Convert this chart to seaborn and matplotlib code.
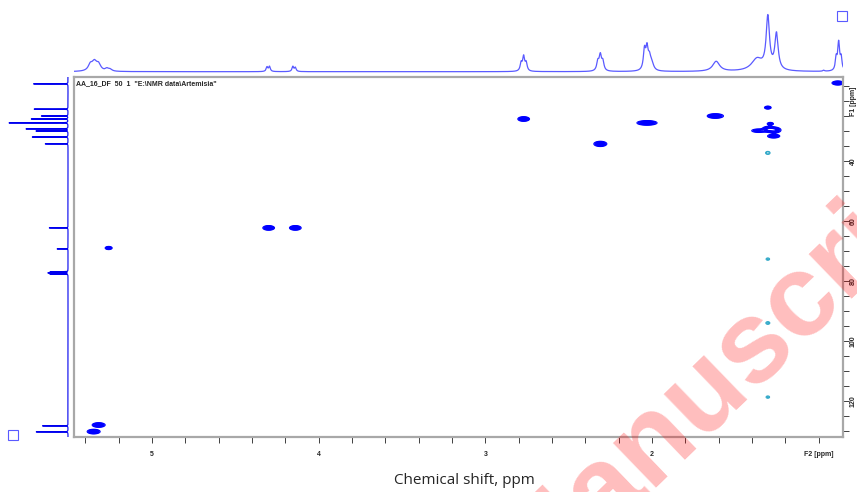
import numpy as np
import pandas as pd
import matplotlib
matplotlib.use('Agg')
import matplotlib.pyplot as plt
import seaborn as sns
from matplotlib.patches import Rectangle

# 1H projection (F2): line positions (ppm), heights, half widths
h_shift = [5.37, 5.345, 5.32, 5.27, 5.25, 4.31, 4.295, 4.155, 4.14,
           2.785, 2.77, 2.755, 2.325, 2.31, 2.295, 2.045, 2.03, 2.015, 2.00,
           1.615, 1.37, 1.305, 1.253, 0.97, 0.895, 0.88, 0.865]
h_height = [6, 9, 6, 2.5, 1.8, 4.5, 5, 5, 4,
            8, 14, 8, 9, 15, 9, 20, 20, 12, 6,
            10, 12, 52, 36, 1, 12, 28, 12]
h_width = [0.015, 0.018, 0.015, 0.012, 0.012, 0.006, 0.006, 0.006, 0.006,
           0.007, 0.007, 0.007, 0.008, 0.008, 0.008, 0.008, 0.008, 0.01, 0.012,
           0.025, 0.04, 0.012, 0.012, 0.006, 0.006, 0.007, 0.006]

# 13C projection (F1)
c_shift = [14.3, 22.7, 25.0, 26.0, 27.3, 29.3, 30.0, 32.0, 34.3,
           62.3, 69.3, 76.9, 77.3, 77.7, 128.3, 130.3]
c_height = [35, 34, 27, 37, 59, 42, 32, 36, 23, 19, 11, 18, 20, 18, 26, 32]

# HSQC cross peaks: F2 (ppm), F1 (ppm), amplitude, widths
pk_f2 = [0.885, 1.305, 1.30, 1.265, 1.36, 1.27, 1.29, 1.62, 2.03, 2.31,
         2.77, 4.30, 4.14, 5.26, 5.32, 5.35]
pk_f1 = [14.0, 22.2, 29.4, 29.7, 29.9, 31.7, 27.6, 25.0, 27.3, 34.3,
         26.0, 62.3, 62.3, 69.0, 128.0, 130.2]
pk_amp = [1, 0.6, 1, 1, 0.6, 0.8, 0.5, 1, 1, 1, 1, 1, 1, 0.7, 1, 1]
pk_w2 = [0.018, 0.012, 0.02, 0.02, 0.025, 0.02, 0.012, 0.025, 0.031, 0.02,
         0.018, 0.018, 0.018, 0.012, 0.02, 0.02]
pk_w1 = [0.35, 0.3, 0.5, 0.5, 0.35, 0.35, 0.3, 0.4, 0.4, 0.45,
         0.4, 0.4, 0.4, 0.3, 0.4, 0.4]

# weak t1-noise spots
art_f2 = [1.305, 1.305, 1.305, 1.305]
art_f1 = [37.3, 72.7, 94.0, 118.7]
art_amp = [0.6, 0.35, 0.45, 0.35]

f2_ticks = [5, 4, 3, 2, 1]
f2_labels = ['5', '4', '3', '2', 'F2 [ppm]']
f1_ticks = [20, 40, 60, 80, 100, 120]
f1_labels = ['F1 [ppm]', '40', '60', '80', '100', '120']


def lorentz(grid, pos, hgt, wid):
    out = np.zeros_like(grid)
    for p, h, w in zip(pos, hgt, wid):
        out += h / (1 + ((grid - p) / w) ** 2)
    return out


sns.set_theme(style='white')
plt.rcParams['font.family'] = ['Liberation Sans', 'DejaVu Sans']

W, H = 857, 492
fig = plt.figure(figsize=(W / 100, H / 100), dpi=100)


def box(x0, y0, x1, y1):
    return [x0 / W, 1 - y1 / H, (x1 - x0) / W, (y1 - y0) / H]


ax = fig.add_axes(box(74, 77, 843, 437))
ax_top = fig.add_axes(box(74, 8, 843, 73))
ax_left = fig.add_axes(box(0, 77, 70, 437))

# 2D contours
gx = np.linspace(0.8, 5.5, 1500)
gy = np.linspace(10, 134, 1300)
X, Y = np.meshgrid(gx, gy)
Z = np.zeros_like(X)
for a, b, amp, w2, w1 in zip(pk_f2, pk_f1, pk_amp, pk_w2, pk_w1):
    Z += amp * np.exp(-0.5 * (((X - a) / w2) ** 2 + ((Y - b) / w1) ** 2))
Za = np.zeros_like(X)
for a, b, amp in zip(art_f2, art_f1, art_amp):
    Za += amp * np.exp(-0.5 * (((X - a) / 0.008) ** 2 + ((Y - b) / 0.3) ** 2))

ax.contour(X, Y, Z, levels=np.linspace(0.15, 0.95, 9), colors='#0000ff',
           linewidths=0.8)
ax.contour(X, Y, Za, levels=[0.15, 0.3], colors='#30a8c8', linewidths=0.8)

# F2 projection
hx = np.linspace(0.8, 5.5, 6000)
top_df = pd.DataFrame({'ppm': hx, 'I': lorentz(hx, h_shift, h_height, h_width)})
sns.lineplot(data=top_df, x='ppm', y='I', ax=ax_top, color='#5a5aff',
             linewidth=0.9, sort=False, estimator=None)
ax_top.axis('off')

# F1 projection
cy = np.linspace(10, 134, 14000)
left_df = pd.DataFrame({'ppm': cy,
                        'I': lorentz(cy, c_shift, c_height, [0.03] * len(c_shift))})
sns.lineplot(data=left_df, x='I', y='ppm', ax=ax_left, color='#0000ee',
             linewidth=0.8, sort=False, estimator=None, orient='y')
ax_left.axis('off')

ax.set_xticks(f2_ticks)
ax.set_xticklabels(f2_labels)
ax.set_xticks(np.arange(1.0, 5.5, 0.2), minor=True)
ax.set_yticks(f1_ticks)
ax.set_yticklabels(f1_labels, rotation=90, va='center')
ax.set_yticks(np.arange(15, 132, 5), minor=True)
ax.yaxis.tick_right()
ax.tick_params(which='both', direction='out', length=4, width=0.7,
               color='#404040', labelsize=5, bottom=True, right=True,
               left=False, top=False)
ax.tick_params(axis='x', pad=6)
ax.tick_params(axis='y', pad=1)
for lab in ax.get_xticklabels() + ax.get_yticklabels():
    lab.set_fontweight('bold')
for s in ax.spines.values():
    s.set_color('#a8a8a8')
    s.set_linewidth(1.6)

# limits last, after ticks and seaborn autoscaling
ax.set_xlim(5.468, 0.854)
ax.set_ylim(132, 12)
ax_top.set_xlim(5.468, 0.854)
ax_top.set_ylim(-1.3, 63.7)
ax_left.set_ylim(132, 12)
ax_left.set_xlim(68, -2)

ax.text(0.003, 0.992, 'AA_16_DF  50  1  "E:\\NMR data\\Artemisia"',
        transform=ax.transAxes, fontsize=5, fontweight='bold', ha='left',
        va='top')

# projection icons
for (px, py) in [(837, 11), (8, 430)]:
    fig.add_artist(Rectangle((px / W, 1 - (py + 10) / H), 10 / W, 10 / H,
                             transform=fig.transFigure, fill=False,
                             ec='#5a5aff', lw=0.8))

fig.text(464 / W, 1 - 481 / H, 'Chemical shift, ppm', ha='center',
         va='center', fontsize=11, family=['Open Sans', 'DejaVu Sans'])

# watermark of the source document
fig.text(735 / W, 1 - 362 / H, 'Manuscript', rotation=44, fontsize=84,
         color='#ff0000', alpha=0.26, fontweight='bold', ha='center',
         va='center', family=['Liberation Sans', 'DejaVu Sans'])

fig.savefig('out.png', dpi=100)
